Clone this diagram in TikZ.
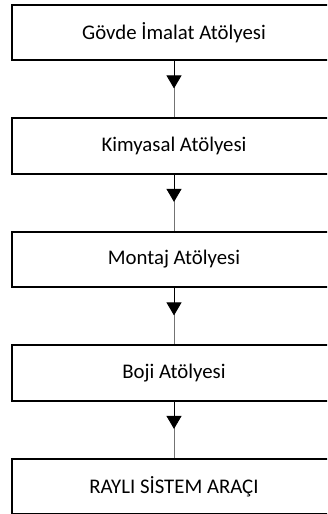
\documentclass[tikz,border=0pt]{standalone}
\usepackage{fontspec}
\setmainfont{Carlito}
\usetikzlibrary{arrows.meta}
\begin{document}
\begin{tikzpicture}[x=1pt,y=-1pt,
  stepbox/.style={draw=black,line width=1.6pt,fill=white,minimum width=324pt,minimum height=55.5pt,inner sep=0pt,font=\fontsize{20.8}{24}\selectfont,text=black},
  conn/.style={draw=black!55,line width=0.9pt},
  head/.style={draw=black,line width=0.9pt,-{Triangle[length=13pt,width=15pt]}}]
\useasboundingbox (0,0) rectangle (327,514);
\clip (0,0) rectangle (327,514);
\node[stepbox] (b1) at (174,32.5) {Gövde İmalat Atölyesi};
\node[stepbox] (b2) at (174,146) {Kimyasal Atölyesi};
\node[stepbox] (b3) at (174,259.5) {Montaj Atölyesi};
\node[stepbox] (b4) at (174,373) {Boji Atölyesi};
\node[stepbox] (b5) at (174,486.5) {RAYLI SİSTEM ARAÇI};
\foreach \a/\b in {b1/b2,b2/b3,b3/b4,b4/b5}{
  \draw[conn] (\a.south) -- (\b.north);
  \path (\a.south) -- (\b.north) coordinate[pos=0.485] (m\a);
  \draw[head] (\a.south) -- (m\a);
}
\end{tikzpicture}
\end{document}
